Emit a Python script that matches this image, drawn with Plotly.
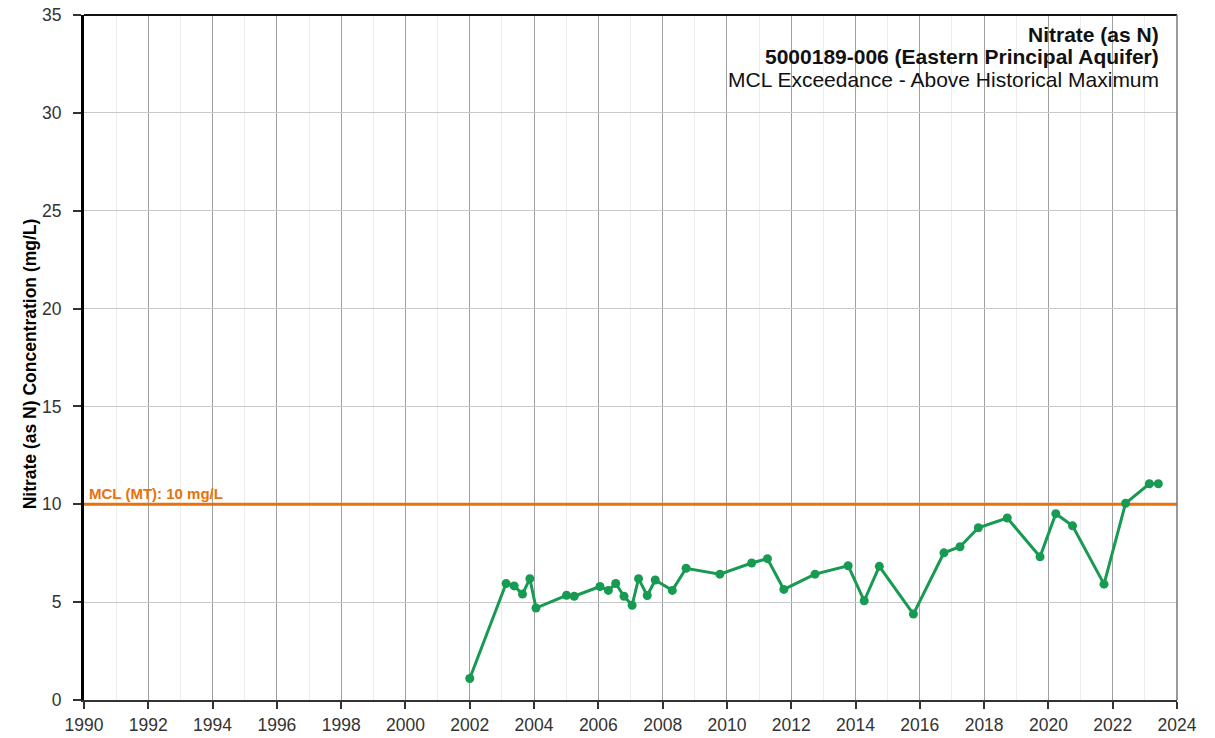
import plotly.graph_objects as go

# Sampling dates (decimal years) and nitrate concentrations (mg/L)
sample_years = [
    2002.0, 2003.13, 2003.38, 2003.64, 2003.87, 2004.06, 2005.01, 2005.25,
    2006.05, 2006.31, 2006.54, 2006.80, 2007.05, 2007.25, 2007.52, 2007.77,
    2008.30, 2008.73, 2009.78, 2010.77, 2011.26, 2011.77, 2012.74, 2013.77,
    2014.27, 2014.74, 2015.80, 2016.75, 2017.25, 2017.82, 2018.72, 2019.74,
    2020.23, 2020.75, 2021.73, 2022.40, 2023.14, 2023.42,
]
nitrate = [
    1.1, 5.95, 5.83, 5.41, 6.2, 4.7, 5.35, 5.3,
    5.8, 5.6, 5.95, 5.3, 4.84, 6.2, 5.34, 6.13,
    5.6, 6.73, 6.43, 7.0, 7.22, 5.65, 6.43, 6.86,
    5.07, 6.83, 4.39, 7.52, 7.83, 8.8, 9.3, 7.32,
    9.52, 8.9, 5.92, 10.05, 11.05, 11.05,
]

mcl_value = 10
x_range = [1990, 2024]
x_ticks = list(range(1990, 2025, 2))
y_ticks = [0, 5, 10, 15, 20, 25, 30, 35]

green = "#179a52"
orange = "#e8720c"
font_family = "Liberation Sans, Arial, sans-serif"

fig = go.Figure()

# MCL reference line
fig.add_trace(go.Scatter(
    x=x_range,
    y=[mcl_value, mcl_value],
    mode="lines",
    line=dict(color=orange, width=3),
    hoverinfo="skip",
    showlegend=False,
))

fig.add_trace(go.Scatter(
    x=sample_years,
    y=nitrate,
    mode="lines+markers",
    line=dict(color=green, width=3),
    marker=dict(color=green, size=9),
    showlegend=False,
))

fig.add_annotation(
    x=1990.1, y=mcl_value, xref="x", yref="y",
    text="<b>MCL (MT): 10 mg/L</b>",
    showarrow=False, xanchor="left", yanchor="bottom", yshift=0,
    font=dict(family=font_family, size=15, color=orange),
)

# Title block, right-aligned inside the plot
titles = [
    ("<b>Nitrate (as N)</b>", 0.971),
    ("<b>5000189-006 (Eastern Principal Aquifer)</b>", 0.939),
    ("MCL Exceedance - Above Historical Maximum", 0.906),
]
for text, ypos in titles:
    fig.add_annotation(
        x=0.985, y=ypos, xref="paper", yref="paper",
        text=text, showarrow=False, xanchor="right", yanchor="middle",
        font=dict(family=font_family, size=21, color="#111111"),
    )

# y-axis title placed as rotated text
fig.add_annotation(
    x=0, y=0.49, xref="paper", yref="paper", xshift=-54,
    text="<b>Nitrate (as N) Concentration (mg/L)</b>",
    textangle=-90, showarrow=False, xanchor="center", yanchor="middle",
    font=dict(family=font_family, size=17.5, color="#000000"),
)

# Frame: top and right edges
fig.add_shape(type="line", xref="paper", yref="paper", x0=0, y0=1, x1=1, y1=1,
              line=dict(color="#111111", width=2), layer="above")
fig.add_shape(type="line", xref="paper", yref="paper", x0=1, y0=0, x1=1, y1=1,
              line=dict(color="#777777", width=1.5), layer="above")

fig.update_xaxes(
    range=x_range,
    tickvals=x_ticks,
    ticks="outside", ticklen=7, tickcolor="#333333", tickwidth=1.5,
    ticklabelstandoff=1,
    showline=True, linecolor="#333333", linewidth=2,
    showgrid=True, gridcolor="#a0a0a0", gridwidth=1,
    minor=dict(dtick=1, showgrid=True, gridcolor="#ececec", gridwidth=1),
    zeroline=False,
    automargin=False,
    tickfont=dict(family=font_family, size=17.5, color="#333333"),
)
fig.update_yaxes(
    range=[0, 35],
    tickvals=y_ticks,
    ticks="outside", ticklen=8, tickcolor="#333333", tickwidth=1.5,
    ticklabelstandoff=8,
    showline=True, linecolor="#000000", linewidth=3,
    showgrid=True, gridcolor="#c8c8c8", gridwidth=1,
    zeroline=False,
    automargin=False,
    tickfont=dict(family=font_family, size=17.5, color="#333333"),
)

fig.update_layout(
    width=1215,
    height=738,
    margin=dict(l=84, r=38, t=15, b=38, autoexpand=False),
    plot_bgcolor="white",
    paper_bgcolor="white",
)

# drop the default page margin so the figure fills the window exactly
fig.write_html(
    "out.html",
    config={"displayModeBar": False},
    post_script="document.body.style.margin = '0';",
)
